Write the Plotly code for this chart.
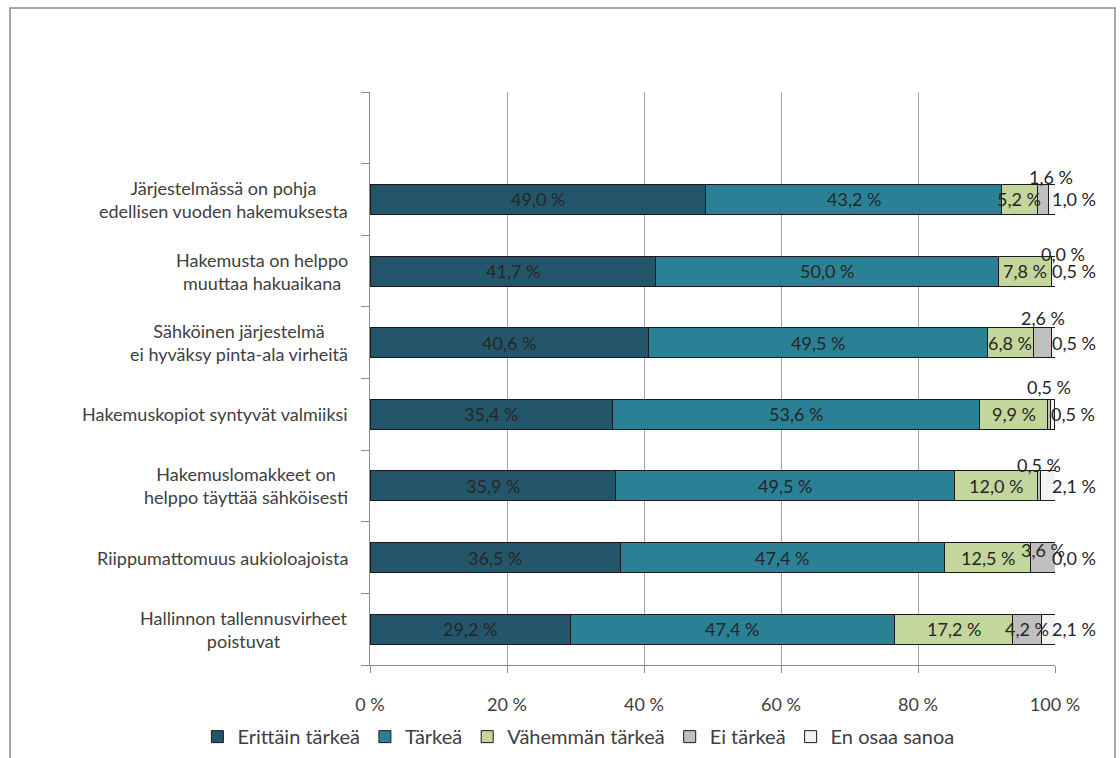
import plotly.graph_objects as go

# Survey statements, listed top to bottom
categories = [
    "Järjestelmässä on pohja<br>edellisen vuoden hakemuksesta",
    "Hakemusta on helppo<br>muuttaa hakuaikana",
    "Sähköinen järjestelmä<br>ei hyväksy pinta-ala virheitä",
    "Hakemuskopiot syntyvät valmiiksi",
    "Hakemuslomakkeet on<br>helppo täyttää sähköisesti",
    "Riippumattomuus aukioloajoista",
    "Hallinnon tallennusvirheet<br>poistuvat",
]

series_names = ["Erittäin tärkeä", "Tärkeä", "Vähemmän tärkeä", "Ei tärkeä", "En osaa sanoa"]

erittain_tarkea = [49.0, 41.7, 40.6, 35.4, 35.9, 36.5, 29.2]
tarkea = [43.2, 50.0, 49.5, 53.6, 49.5, 47.4, 47.4]
vahemman_tarkea = [5.2, 7.8, 6.8, 9.9, 12.0, 12.5, 17.2]
ei_tarkea = [1.6, 0.0, 2.6, 0.5, 0.5, 3.6, 4.2]
en_osaa_sanoa = [1.0, 0.5, 0.5, 0.5, 2.1, 0.0, 2.1]

x_tick_values = [0, 20, 40, 60, 80, 100]
x_tick_labels = ["0 %", "20 %", "40 %", "60 %", "80 %", "100 %"]

series_values = [erittain_tarkea, tarkea, vahemman_tarkea, ei_tarkea, en_osaa_sanoa]
colors = ["#23566A", "#2A8196", "#C3D69B", "#BFBFBF", "#F2F2F2"]

FONT = "Lato, 'Open Sans', sans-serif"
TEXT_COLOR = "#404040"
LABEL_COLOR = "#262626"


def fmt(v):
    return f"{v:.1f}".replace(".", ",") + " %"


fig = go.Figure()
for name, vals, col in zip(series_names, series_values, colors):
    fig.add_trace(go.Bar(
        name=name,
        y=categories,
        x=vals,
        orientation="h",
        width=0.42,
        marker=dict(color=col, line=dict(color="#1a1a1a", width=1)),
        hoverinfo="x+name",
    ))

annotations = []
# Cumulative positions of every segment
starts = [[0.0] * len(categories)]
for vals in series_values[:-1]:
    prev = starts[-1]
    starts.append([p + v for p, v in zip(prev, vals)])

# Value labels for the three largest groups, centred in the segments
for s in range(3):
    for i, cat in enumerate(categories):
        v = series_values[s][i]
        annotations.append(dict(
            x=starts[s][i] + v / 2, y=cat, xref="x", yref="y",
            text=fmt(v), showarrow=False,
            font=dict(family=FONT, size=18, color=LABEL_COLOR),
        ))

# "Ei tärkeä" labels sit just above their thin segments
ei_yshift = [22, 17, 25, 27, 21, 8, 0]
ei_xshift = [8, 11, 0, 0, 0, 0, 0]
for i, cat in enumerate(categories):
    v = ei_tarkea[i]
    annotations.append(dict(
        x=starts[3][i] + v / 2, y=cat, xref="x", yref="y",
        text=fmt(v), showarrow=False, yshift=ei_yshift[i], xshift=ei_xshift[i],
        font=dict(family=FONT, size=18, color=LABEL_COLOR),
    ))

# "En osaa sanoa" labels to the right of the bar ends (rounded totals may pass 100)
for i, cat in enumerate(categories):
    v = en_osaa_sanoa[i]
    end = min(starts[4][i] + v, 100)
    annotations.append(dict(
        x=end, y=cat, xref="x", yref="y",
        text=fmt(v), showarrow=False, xanchor="left", xshift=-5,
        font=dict(family=FONT, size=18, color=LABEL_COLOR),
    ))

# Category labels, centred line by line
for cat in categories:
    annotations.append(dict(
        x=0, y=cat, xref="paper", yref="y",
        text=cat, showarrow=False, xanchor="right", align="center",
        xshift=-20,
        font=dict(family=FONT, size=18, color=TEXT_COLOR),
    ))

fig.update_layout(
    barmode="stack",
    width=1120,
    height=758,
    margin=dict(l=370, r=65, t=92, b=93, autoexpand=False),
    paper_bgcolor="white",
    plot_bgcolor="white",
    font=dict(family=FONT, size=18, color=TEXT_COLOR),
    annotations=annotations,
    showlegend=True,
    legend=dict(
        orientation="h",
        xref="paper", yref="paper",
        x=-0.252, xanchor="left",
        y=-0.125, yanchor="middle",
        font=dict(family=FONT, size=20, color=TEXT_COLOR),
        itemwidth=30,
        traceorder="normal",
    ),
    shapes=[dict(
        type="rect", xref="paper", yref="paper",
        x0=-0.5255, x1=1.0876, y0=-0.25, y1=1.1466,
        line=dict(color="#8c8c8c", width=1.5),
        fillcolor="rgba(0,0,0,0)", layer="below",
    )],
)

fig.update_xaxes(
    range=[0, 100],
    tickvals=x_tick_values,
    ticktext=x_tick_labels,
    showgrid=True, gridcolor="#A6A6A6", gridwidth=1,
    showline=True, linecolor="#8c8c8c", linewidth=1,
    ticks="outside", ticklen=7, tickcolor="#8c8c8c",
    ticklabelstandoff=16,
    tickfont=dict(family=FONT, size=18, color=TEXT_COLOR),
    zeroline=False,
    fixedrange=True,
)

fig.update_yaxes(
    type="category",
    categoryorder="array",
    categoryarray=list(reversed(categories)) + [" "],
    range=[-0.5, 7.5],
    showticklabels=False,
    showgrid=False,
    showline=True, linecolor="#8c8c8c", linewidth=1,
    ticks="outside", ticklen=8, tickcolor="#8c8c8c",
    tickson="boundaries",
    fixedrange=True,
)

fig.write_html("out.html")
